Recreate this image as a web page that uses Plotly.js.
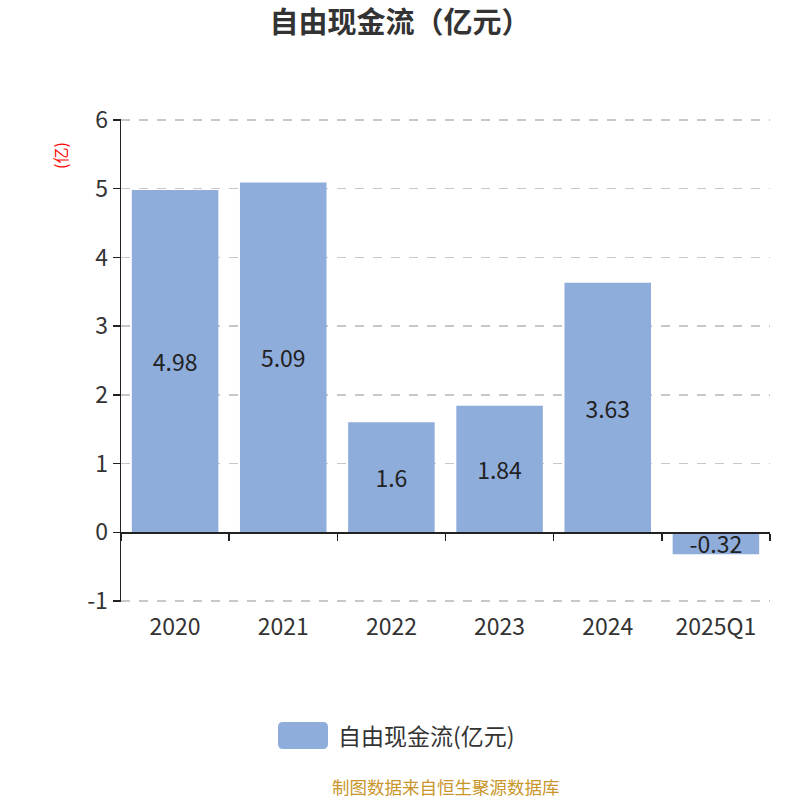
<!DOCTYPE html>
<html><head><meta charset="utf-8">
<script src="https://cdn.plot.ly/plotly-3.0.1.min.js"></script>
<style>body{margin:0;background:#fff}#c{width:800px;height:800px}</style>
</head><body><div id="c"></div>
<script>
const categories = ['2020','2021','2022','2023','2024','2025Q1'];
const values = [4.98, 5.09, 1.6, 1.84, 3.63, -0.32];
const labels = ['4.98','5.09','1.6','1.84','3.63','-0.32'];
const yTicks = [-1,0,1,2,3,4,5,6];
const yTickText = ['-1','0','1','2','3','4','5','6'];
const seriesName = '自由现金流(亿元)';
const FONT = '"Noto Sans CJK SC", "Noto Sans", sans-serif';
const BAR = '#8eaddb';

const trace = {
  type:'bar', x:categories, y:values, name:seriesName,
  text:labels, textposition:'inside', insidetextanchor:'middle', constraintext:'none',
  textfont:{size:23,color:'#222',family:FONT},
  marker:{color:BAR}, hoverinfo:'none', showlegend:false
};
const ghost = {type:'bar', x:categories, y:categories.map(()=>null), xaxis:'x2', showlegend:false, hoverinfo:'none'};

const T = 119, B = 198;
const H = 800 - T - B; // plot height px
const paperY = py => (800 - B - py) / H;
const paperX = px => (px - 121) / 649;
const yr = [-1.015, 6.015];

const layout = {
  width:800,height:800,
  margin:{l:121,r:30,t:T,b:B},
  paper_bgcolor:'#fff',plot_bgcolor:'#fff',
  font:{family:FONT,color:'#333'},
  title:{text:'<b>自由现金流（亿元）</b>',x:0.5,xanchor:'center',y:0.972,yanchor:'middle',font:{size:29,color:'#333',family:FONT}},
  bargap:0.2,
  showlegend:false,
  xaxis:{type:'category',showgrid:false,showline:false,ticks:'outside',ticklen:4,tickcolor:'rgba(0,0,0,0)',tickfont:{size:23,color:'#333'},zeroline:false},
  xaxis2:{type:'category',matches:'x',overlaying:'x',anchor:'free',position:(0-yr[0])/(yr[1]-yr[0]),showline:true,linecolor:'#222',linewidth:1.5,
          ticks:'outside',ticklen:7,tickcolor:'#222',tickwidth:1.5,tickson:'boundaries',showticklabels:false,showgrid:false},
  yaxis:{range:yr,tickvals:yTicks,ticktext:yTickText,showline:true,linecolor:'#222',linewidth:1.5,ticks:'outside',ticklen:7,tickcolor:'#222',tickwidth:1.5,
         showgrid:true,gridcolor:'#c8c8c8',griddash:'dash',gridwidth:1.5,zeroline:false,
         tickfont:{size:23,color:'#333'}},
  shapes:[{type:'path',xref:'paper',yref:'paper',
    path:(function(){const x0=paperX(278),x1=paperX(328),y0=paperY(749),y1=paperY(722),rx=5/649,ry=5/H;
      return `M${x0+rx},${y0} L${x1-rx},${y0} Q${x1},${y0} ${x1},${y0+ry} L${x1},${y1-ry} Q${x1},${y1} ${x1-rx},${y1} L${x0+rx},${y1} Q${x0},${y1} ${x0},${y1-ry} L${x0},${y0+ry} Q${x0},${y0} ${x0+rx},${y0} Z`;})(),
    fillcolor:BAR,line:{width:0}}],
  annotations:[
    {text:seriesName,xref:'paper',yref:'paper',x:paperX(336),y:paperY(735),xanchor:'left',yanchor:'middle',showarrow:false,
     font:{size:23,color:'#333',family:FONT}},
    {text:'(亿)',xref:'paper',yref:'paper',x:paperX(60),y:paperY(155),xanchor:'center',yanchor:'middle',textangle:-90,showarrow:false,
     font:{size:16,color:'#ff0000',family:FONT}},
    {text:'制图数据来自恒生聚源数据库',xref:'paper',yref:'paper',x:0.5,y:paperY(786),xanchor:'center',yanchor:'middle',showarrow:false,
     font:{size:17.5,color:'#c8962a',family:FONT}}]
};
Plotly.newPlot('c',[trace,ghost],layout,{displayModeBar:false,staticPlot:true});
</script></body></html>
